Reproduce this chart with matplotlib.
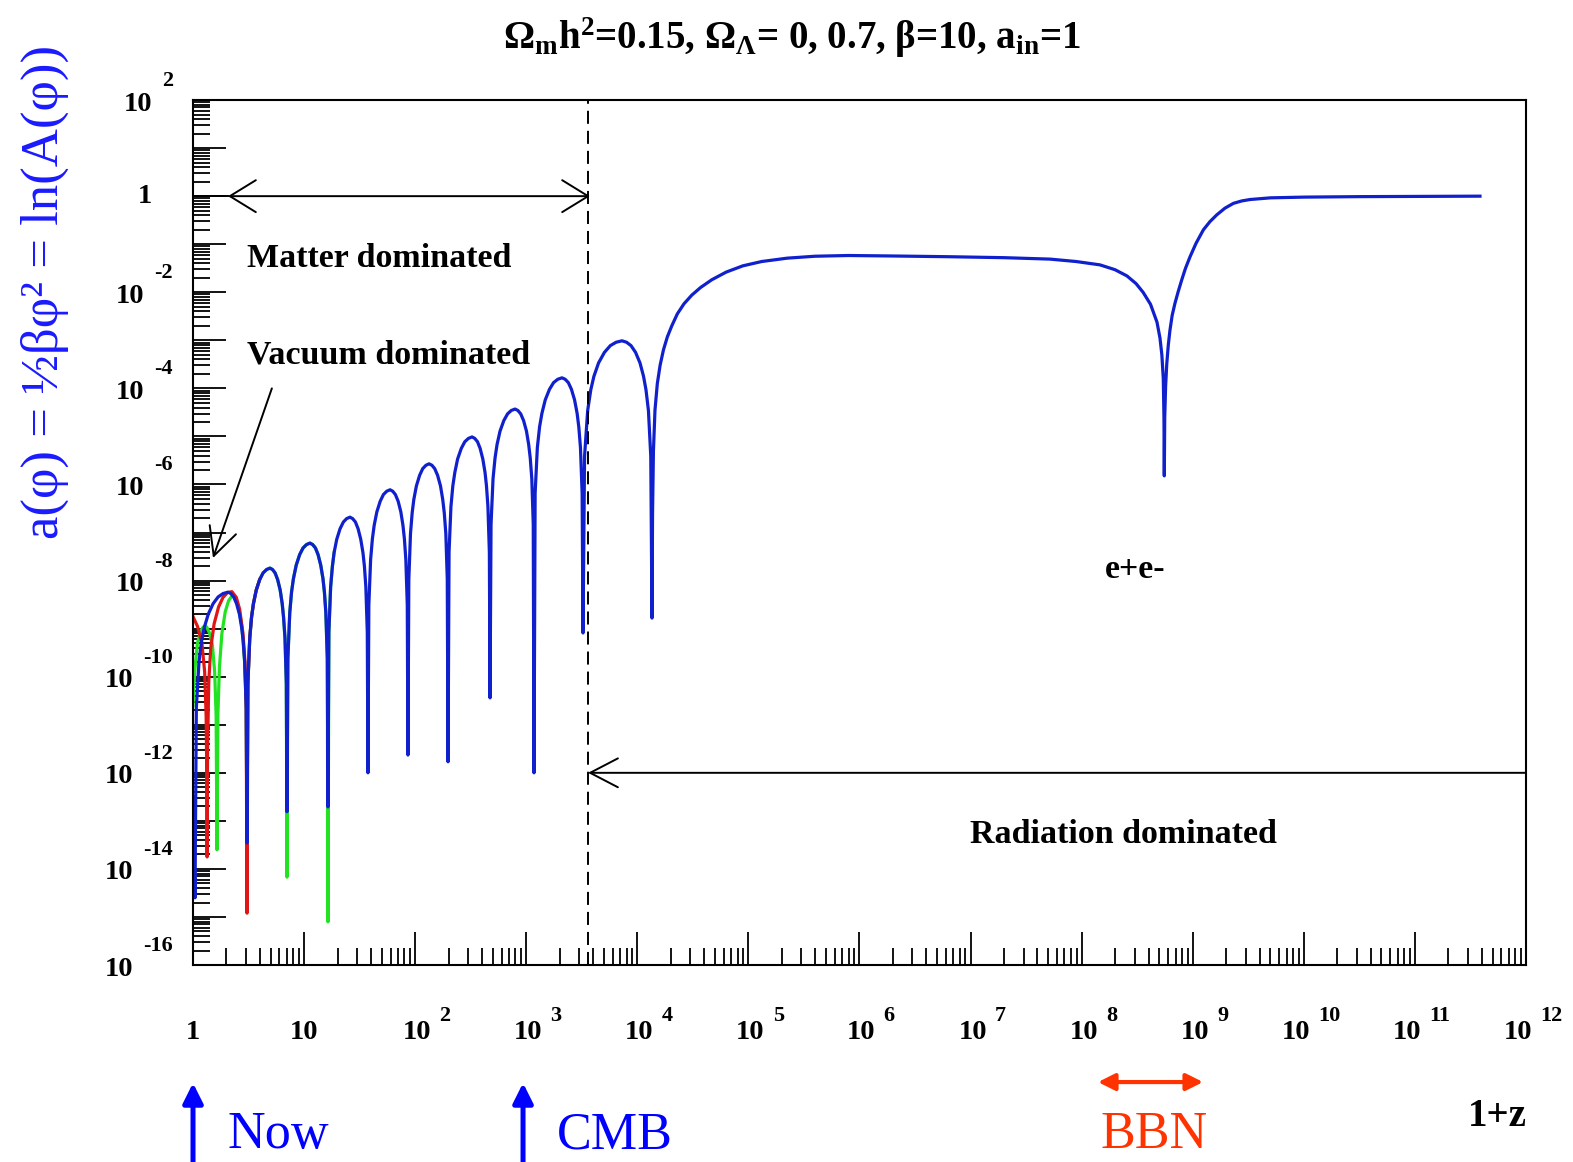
import matplotlib
matplotlib.use("Agg")
import matplotlib.pyplot as plt
import numpy as np
from matplotlib.ticker import LogLocator, NullFormatter

plt.rcParams['font.family'] = ['Liberation Serif', 'DejaVu Serif']
plt.rcParams['mathtext.fontset'] = 'custom'
plt.rcParams['mathtext.rm'] = 'Liberation Serif:bold'
plt.rcParams['mathtext.it'] = 'Liberation Serif:bold'
plt.rcParams['mathtext.bf'] = 'Liberation Serif:bold'
plt.rcParams['mathtext.default'] = 'rm'

# curves, as log10(1+z) and log10(a); one row per arch
blue_logz = [0.0, 0.018,
             0.030, 0.054, 0.077, 0.101, 0.137, 0.181, 0.226, 0.270, 0.315,
             0.341, 0.366, 0.392, 0.418, 0.438, 0.452, 0.465, 0.479, 0.486,
             0.494, 0.511, 0.527, 0.544, 0.569, 0.600, 0.631, 0.662, 0.693,
             0.716, 0.739, 0.762, 0.785, 0.803, 0.815, 0.828, 0.840, 0.846,
             0.854, 0.871, 0.887, 0.904, 0.929, 0.960, 0.991, 1.022, 1.053,
             1.077, 1.102, 1.126, 1.150, 1.170, 1.183, 1.196, 1.209, 1.215,
             1.223, 1.239, 1.255, 1.270, 1.294, 1.324, 1.354, 1.383, 1.413,
             1.437, 1.462, 1.486, 1.510, 1.530, 1.543, 1.556, 1.569, 1.575,
             1.583, 1.599, 1.615, 1.631, 1.655, 1.685, 1.714, 1.744, 1.774,
             1.798, 1.822, 1.847, 1.871, 1.890, 1.903, 1.916, 1.929, 1.935,
             1.943, 1.958, 1.973, 1.988, 2.011, 2.040, 2.068, 2.097, 2.125,
             2.151, 2.176, 2.202, 2.228, 2.248, 2.262, 2.276, 2.289, 2.296,
             2.305, 2.322, 2.339, 2.357, 2.382, 2.415, 2.447, 2.480, 2.512,
             2.536, 2.561, 2.585, 2.609, 2.629, 2.642, 2.655, 2.668, 2.674,
             2.683, 2.701, 2.719, 2.737, 2.764, 2.798, 2.832, 2.865, 2.899,
             2.925, 2.950, 2.976, 3.002, 3.022, 3.036, 3.050, 3.063, 3.070,
             3.080, 3.100, 3.120, 3.141, 3.171, 3.209, 3.246, 3.284, 3.322,
             3.350, 3.379, 3.407, 3.435, 3.458, 3.473, 3.488, 3.503, 3.511,
             3.525, 3.553, 3.581, 3.609, 3.651, 3.704, 3.757, 3.809, 3.862,
             3.903, 3.943, 3.984, 4.024, 4.056, 4.078, 4.100, 4.121, 4.132,
             4.137, 4.145, 4.159, 4.180, 4.205, 4.235, 4.27, 4.31, 4.36, 4.42,
             4.49, 4.57, 4.67, 4.80, 4.95, 5.12, 5.35, 5.60, 5.9, 6.3,
             6.8, 7.3, 7.715, 7.95, 8.165, 8.3, 8.408, 8.49, 8.553, 8.62,
             8.678, 8.705, 8.722, 8.735, 8.741,
             8.744, 8.748, 8.756, 8.766, 8.78, 8.795, 8.815, 8.84, 8.87, 8.90,
             8.935, 8.976, 9.03, 9.096, 9.155, 9.216, 9.29, 9.366, 9.44, 9.516,
             9.7, 10.0, 10.5, 11.586]
blue_loga = [-12.5, -14.6,
             -10.64, -9.69, -9.26, -8.98, -8.70, -8.48, -8.34, -8.27, -8.24,
             -8.27, -8.34, -8.48, -8.70, -8.98, -9.26, -9.69, -10.64, -13.46,
             -10.14, -9.19, -8.76, -8.48, -8.20, -7.98, -7.84, -7.77, -7.74,
             -7.77, -7.84, -7.98, -8.20, -8.48, -8.76, -9.19, -10.14, -12.81,
             -9.62, -8.67, -8.24, -7.96, -7.68, -7.46, -7.32, -7.25, -7.22,
             -7.25, -7.32, -7.46, -7.68, -7.96, -8.24, -8.67, -9.62, -12.71,
             -9.08, -8.13, -7.70, -7.42, -7.14, -6.92, -6.78, -6.71, -6.68,
             -6.71, -6.78, -6.92, -7.14, -7.42, -7.70, -8.13, -9.08, -12.00,
             -8.51, -7.56, -7.13, -6.85, -6.57, -6.35, -6.21, -6.14, -6.11,
             -6.14, -6.21, -6.35, -6.57, -6.85, -7.13, -7.56, -8.51, -11.63,
             -7.97, -7.02, -6.59, -6.31, -6.03, -5.81, -5.67, -5.60, -5.57,
             -5.60, -5.67, -5.81, -6.03, -6.31, -6.59, -7.02, -7.97, -11.77,
             -7.41, -6.46, -6.03, -5.75, -5.47, -5.25, -5.11, -5.04, -5.01,
             -5.04, -5.11, -5.25, -5.47, -5.75, -6.03, -6.46, -7.41, -10.44,
             -6.83, -5.88, -5.45, -5.17, -4.89, -4.67, -4.53, -4.46, -4.43,
             -4.46, -4.53, -4.67, -4.89, -5.17, -5.45, -5.88, -6.83, -12.00,
             -6.18, -5.23, -4.80, -4.52, -4.24, -4.02, -3.88, -3.81, -3.78,
             -3.81, -3.88, -4.02, -4.24, -4.52, -4.80, -5.23, -6.18, -9.09,
             -5.41, -4.46, -4.03, -3.75, -3.47, -3.25, -3.11, -3.04, -3.01,
             -3.04, -3.11, -3.25, -3.47, -3.75, -4.03, -4.46, -5.41, -8.78,
             -6.6, -5.3, -4.45, -3.90, -3.52, -3.20, -2.93, -2.70, -2.45, -2.24,
             -2.06, -1.90, -1.74, -1.58, -1.45, -1.36, -1.29, -1.25, -1.235, -1.245,
             -1.26, -1.28, -1.31, -1.36, -1.43, -1.53, -1.66, -1.82, -2.0, -2.25,
             -2.62, -2.95, -3.3, -3.8, -4.6,
             -5.82, -4.6, -3.95, -3.50, -3.10, -2.79, -2.48, -2.23, -1.98, -1.75,
             -1.50, -1.26, -0.98, -0.70, -0.53, -0.39, -0.25, -0.15, -0.10, -0.07,
             -0.035, -0.02, -0.01, 0.0]

red_logz = [0.0, 0.04, 0.08, 0.105, 0.118, 0.124, 0.127, 0.131, 0.142, 0.16, 0.19, 0.23, 0.27,
            0.31, 0.35, 0.39, 0.42, 0.45, 0.468, 0.479, 0.486, 0.494, 0.511, 0.527, 0.544,
            0.569, 0.600]
red_loga = [-8.75, -8.95, -9.3, -9.9, -10.8, -12.0, -13.75, -11.5, -10.1, -9.4, -8.9, -8.55, -8.35,
            -8.25, -8.23, -8.35, -8.6, -9.1, -9.7, -10.64, -14.92, -10.14, -9.19, -8.76, -8.48,
            -8.20, -7.98]

green_logz = [0.0, 0.015, 0.04, 0.07, 0.09, 0.108, 0.125, 0.15, 0.175, 0.195, 0.208, 0.216,
              0.224, 0.238, 0.26, 0.29, 0.32, 0.35, 0.38, 0.41, 0.44, 0.465, 0.479, 0.486,
              0.494, 0.511, 0.527, 0.544, 0.569, 0.600, 0.631, 0.662, 0.693,
              0.716, 0.739, 0.762, 0.785, 0.803, 0.815, 0.828, 0.840, 0.846,
              0.854, 0.871, 0.887, 0.904, 0.929, 0.960, 0.991, 1.022, 1.053,
              1.077, 1.102, 1.126, 1.150, 1.170, 1.183, 1.196, 1.209, 1.215,
              1.223, 1.239, 1.255, 1.270]
green_loga = [-10.6, -9.9, -9.3, -9.05, -8.97, -8.94, -8.97, -9.1, -9.35, -9.9, -10.8, -13.6,
              -10.8, -9.8, -9.1, -8.65, -8.42, -8.32, -8.35, -8.55, -8.95, -9.70, -10.64, -13.5,
              -10.14, -9.19, -8.76, -8.48, -8.20, -7.98, -7.84, -7.77, -7.74,
              -7.77, -7.84, -7.98, -8.20, -8.48, -8.76, -9.19, -10.14, -14.17,
              -9.62, -8.67, -8.24, -7.96, -7.68, -7.46, -7.32, -7.25, -7.22,
              -7.25, -7.32, -7.46, -7.68, -7.96, -8.24, -8.67, -9.62, -15.10,
              -9.08, -8.13, -7.70, -7.42]

x_exps = list(range(0, 13))
y_exps = list(range(2, -17, -2))

# annotation places (log10 values)
eq_logz = 3.556          # dashed line
now_logz = 0.0
cmb_logz = 2.971
bbn_logz = (8.147, 9.093)

fig = plt.figure(figsize=(15.73, 11.62), dpi=100)
ax = fig.add_axes([0.1227, 0.1695, 0.8474, 0.7444])

ax.plot(10**np.array(green_logz), 10**np.array(green_loga), color='#22e322', lw=2.3)
ax.plot(10**np.array(red_logz), 10**np.array(red_loga), color='#e01515', lw=2.3)
ax.plot(10**np.array(blue_logz), 10**np.array(blue_loga), color='#1020cc', lw=2.3)

ax.set_xscale('log')
ax.set_yscale('log')
ax.set_xlim(1, 1e12)
ax.set_ylim(1e-16, 1e2)
for a in (ax.xaxis, ax.yaxis):
    a.set_major_locator(LogLocator(base=10, numticks=100))
    a.set_minor_locator(LogLocator(base=10, subs=np.arange(2, 10), numticks=100))
    a.set_major_formatter(NullFormatter())
    a.set_minor_formatter(NullFormatter())
ax.tick_params(which='both', direction='in', top=False, right=False, width=1.3)
ax.tick_params(which='major', length=24)
ax.tick_params(which='minor', length=12)
for s in ax.spines.values():
    s.set_linewidth(1.5)

# ROOT style tick labels
for e in x_exps:
    if e < 2:
        ax.annotate('1' if e == 0 else '10', xy=(10.0**e, 0), xycoords=ax.get_xaxis_transform(),
                    xytext=(0, -67), textcoords='offset pixels', ha='center', va='center',
                    fontsize=20.5, fontweight='bold', annotation_clip=False)
        continue
    dx = 2 if e < 10 else -8
    base = ax.annotate('10', xy=(10.0**e, 0), xycoords=ax.get_xaxis_transform(),
                       xytext=(dx, -67), textcoords='offset pixels', ha='center', va='center',
                       fontsize=20.5, fontweight='bold', annotation_clip=False)
    ax.annotate(str(e), xy=(1, 0.5), xycoords=base, xytext=(8, 16), textcoords='offset pixels',
                ha='left', va='center', fontsize=16, fontweight='bold', annotation_clip=False)

for e in y_exps:
    if e == 0:
        ax.annotate('1', xy=(0, 1.0), xycoords=ax.get_yaxis_transform(), xytext=(-41, 0),
                    textcoords='offset pixels', ha='right', va='center', fontsize=20.5,
                    fontweight='bold', annotation_clip=False)
        continue
    ex = ax.annotate(str(e), xy=(0, 10.0**e), xycoords=ax.get_yaxis_transform(), xytext=(-20, 19),
                     textcoords='offset pixels', ha='right', va='center', fontsize=16,
                     fontweight='bold', annotation_clip=False)
    ax.annotate('10', xy=(0, 0.5), xycoords=ex, xytext=(-10, -23), textcoords='offset pixels',
                ha='right', va='center', fontsize=20.5, fontweight='bold', annotation_clip=False)

# dashed line and arrows inside the frame
ax.axvline(10**eq_logz, color='k', lw=1.4, ls=(0, (6.7, 3.6)))
ax.plot([1, 10**0.315], [1, 1], color='k', lw=1.4)
ax.annotate('', xy=(10**0.315, 1), xytext=(10**3.574, 1),
            arrowprops=dict(arrowstyle='<->,head_length=1.87,head_width=1.15', lw=1.4, color='k',
                            shrinkA=0, shrinkB=0, mutation_scale=10))
ax.annotate('', xy=(10**eq_logz, 1e-12), xytext=(1e12, 1e-12),
            arrowprops=dict(arrowstyle='->,head_length=2.0,head_width=1.04', lw=1.4, color='k',
                            shrinkA=0, shrinkB=0, mutation_scale=10))
ax.annotate('', xy=(10**0.18, 10**-7.53), xytext=(10**0.71, 10**-4.0),
            arrowprops=dict(arrowstyle='->,head_length=2.0,head_width=1.0', lw=1.4, color='k',
                            shrinkA=0, shrinkB=0, mutation_scale=10))

ax.text(10**0.486, 10**-1.29, 'Matter dominated', fontsize=24.5, fontweight='bold', ha='left', va='center')
ax.text(10**0.486, 10**-3.31, 'Vacuum dominated', fontsize=24.5, fontweight='bold', ha='left', va='center')
ax.text(10**8.48, 10**-7.76, 'e+e-', fontsize=24.5, fontweight='bold', ha='center', va='center')
ax.text(10**8.372, 10**-13.29, 'Radiation dominated', fontsize=24.5, fontweight='bold', ha='center', va='center')

# epochs below the axis
for lz in (now_logz, cmb_logz):
    ax.annotate('', xy=(10**lz, 0.068), xycoords=('data', 'figure fraction'),
                xytext=(10**lz, 0.0), textcoords=('data', 'figure fraction'),
                arrowprops=dict(arrowstyle='-|>,head_length=1.2,head_width=0.6', lw=3.6,
                                color='#0000ff', shrinkA=0, shrinkB=0, mutation_scale=10),
                annotation_clip=False)
ax.annotate('', xy=(10**bbn_logz[0], 0.0688), xycoords=('data', 'figure fraction'),
            xytext=(10**bbn_logz[1], 0.0688), textcoords=('data', 'figure fraction'),
            arrowprops=dict(arrowstyle='<|-|>,head_length=1.0,head_width=0.5', lw=3,
                            color='#ff3300', shrinkA=0, shrinkB=0, mutation_scale=10),
            annotation_clip=False)
fig.text(228/1573, 0.012, 'Now', color='#0000ff', fontsize=37.5, ha='left', va='baseline')
fig.text(557/1573, 0.012, 'CMB', color='#0000ff', fontsize=37.5, ha='left', va='baseline')
fig.text(1100/1573, 0.012, 'BBN', color='#ff3300', fontsize=37.5, ha='left', va='baseline')
fig.text(1527/1573, 0.031, '1+z', fontsize=28, fontweight='bold', ha='right', va='baseline')

fig.text(0.0286, 0.749, 'a(φ) = ½βφ² = ln(A(φ))', rotation=90, color='#1a1aff', fontsize=38,
         ha='center', va='center')
fig.text(792/1573, 1 - 38/1162,
         r'$\Omega_{m}$h$^{2}$=0.15, $\Omega_{\Lambda}$= 0, 0.7, $\beta$=10, a$_{in}$=1',
         ha='center', va='center', fontsize=28, fontweight='bold')

fig.savefig('out.png', dpi=100)
